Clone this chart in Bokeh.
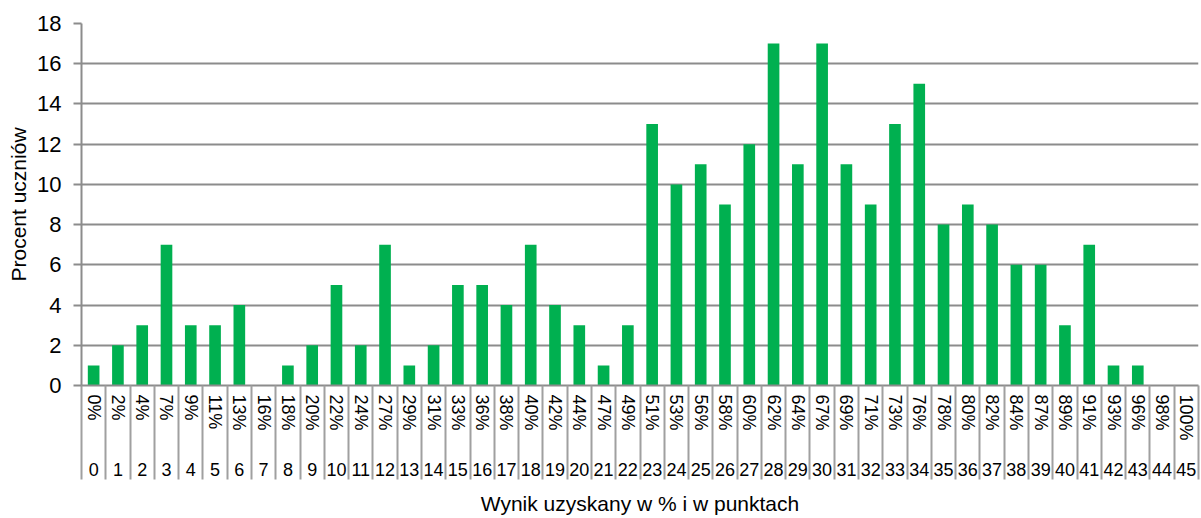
from bokeh.plotting import figure
from bokeh.models import Range1d, LinearAxis, FixedTicker, ColumnDataSource
from bokeh.embed import file_html
from bokeh.resources import INLINE

# ---- data ----
points = [0, 1, 2, 3, 4, 5, 6, 7, 8, 9, 10, 11, 12, 13, 14, 15, 16, 17, 18, 19, 20, 21, 22,
          23, 24, 25, 26, 27, 28, 29, 30, 31, 32, 33, 34, 35, 36, 37, 38, 39, 40, 41, 42, 43, 44, 45]
pct_labels = ["0%", "2%", "4%", "7%", "9%", "11%", "13%", "16%", "18%", "20%", "22%", "24%",
              "27%", "29%", "31%", "33%", "36%", "38%", "40%", "42%", "44%", "47%", "49%",
              "51%", "53%", "56%", "58%", "60%", "62%", "64%", "67%", "69%", "71%", "73%",
              "76%", "78%", "80%", "82%", "84%", "87%", "89%", "91%", "93%", "96%", "98%", "100%"]
percent_students = [1, 2, 3, 7, 3, 3, 4, 0, 1, 2, 5, 2, 7, 1, 2, 5, 5, 4, 7, 4, 3, 1, 3,
                    13, 10, 11, 9, 12, 17, 11, 17, 11, 9, 13, 15, 8, 9, 8, 6, 6, 3, 7, 1, 1, 0, 0]
y_ticks = [0, 2, 4, 6, 8, 10, 12, 14, 16, 18]
x_title = "Wynik uzyskany w % i w punktach"
y_title = "Procent uczniów"

FONT = "Liberation Sans"
GRID = "#8c8c8c"
SEP = "#a0a0a0"
GREEN = "#00B050"

boundaries = [p - 0.5 for p in points] + [points[-1] + 0.5]

p = figure(width=1200, height=517, output_backend="svg", toolbar_location=None,
           x_range=Range1d(points[0] - 0.5, points[-1] + 0.5),
           y_range=Range1d(y_ticks[0], y_ticks[-1]),
           x_axis_location=None, y_axis_location="left",
           min_border_left=81, min_border_right=2, min_border_top=23, min_border_bottom=0)
p.outline_line_color = None
p.background_fill_color = "white"
p.border_fill_color = "white"

src = ColumnDataSource(dict(x=points, top=percent_students))
p.vbar(x="x", top="top", width=0.48, source=src, fill_color=GREEN, line_color=None)

# y axis
yax = p.yaxis[0]
yax.ticker = FixedTicker(ticks=y_ticks)
yax.axis_label = y_title
yax.axis_label_text_font = FONT
yax.axis_label_text_font_style = "normal"
yax.axis_label_text_font_size = "21px"
yax.axis_label_text_color = "black"
yax.axis_label_standoff = 4
yax.major_label_text_font = FONT
yax.major_label_text_font_size = "22px"
yax.major_label_text_color = "black"
yax.major_label_standoff = 12
yax.major_tick_out = 8
yax.major_tick_in = 0
yax.major_tick_line_color = GRID
yax.major_tick_line_width = 2
yax.minor_tick_line_color = None
yax.axis_line_color = GRID
yax.axis_line_width = 2

p.xgrid.visible = False
p.ygrid.ticker = FixedTicker(ticks=y_ticks)
p.ygrid.grid_line_color = GRID
p.ygrid.grid_line_width = 2

# x axis 1: percent labels + separators (long minor ticks; negative standoff keeps labels near axis)
SEP_LEN = 94
ax1 = LinearAxis(ticker=FixedTicker(ticks=points, minor_ticks=boundaries))
ax1.major_label_overrides = {pt: lab for pt, lab in zip(points, pct_labels)}
ax1.major_label_orientation = "vertical"
ax1.major_label_text_font = FONT
ax1.major_label_text_font_size = "18px"
ax1.major_label_text_color = "black"
ax1.major_label_standoff = 9 - SEP_LEN
ax1.major_tick_line_color = None
ax1.major_tick_out = 0
ax1.major_tick_in = 0
ax1.minor_tick_in = 0
ax1.minor_tick_out = SEP_LEN
ax1.minor_tick_line_color = SEP
ax1.minor_tick_line_width = 2
ax1.axis_line_color = GRID
ax1.axis_line_width = 2
p.add_layout(ax1, "below")

# x axis 2: point labels + title
ax2 = LinearAxis(ticker=FixedTicker(ticks=points))
ax2.major_label_overrides = {pt: str(pt) for pt in points}
ax2.major_label_text_font = FONT
ax2.major_label_text_font_size = "18px"
ax2.major_label_text_color = "black"
ax2.major_label_standoff = 19
ax2.major_tick_line_color = None
ax2.major_tick_out = 0
ax2.major_tick_in = 0
ax2.minor_tick_line_color = None
ax2.axis_line_color = None
ax2.axis_label = x_title
ax2.axis_label_text_font = FONT
ax2.axis_label_text_font_style = "normal"
ax2.axis_label_text_font_size = "21px"
ax2.axis_label_text_color = "black"
ax2.axis_label_standoff = 13
p.add_layout(ax2, "below")

open("out.html", "w").write(file_html(p, INLINE))
